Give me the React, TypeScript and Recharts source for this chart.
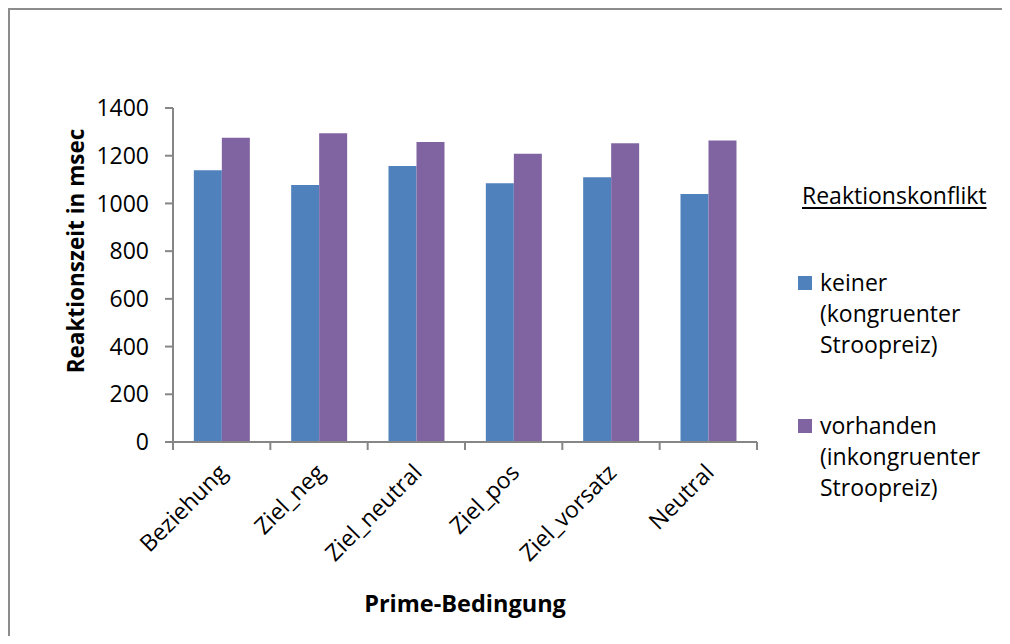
import React from 'react'
import { BarChart, Bar, XAxis, YAxis, Legend } from 'recharts'

// Reaction times (msec) per prime condition, split by response conflict
const primeConditions = ['Beziehung', 'Ziel_neg', 'Ziel_neutral', 'Ziel_pos', 'Ziel_vorsatz', 'Neutral']
const keinerValues = [1139, 1077, 1157, 1085, 1110, 1039]
const vorhandenValues = [1275, 1294, 1257, 1208, 1252, 1264]
const yTicks = [0, 200, 400, 600, 800, 1000, 1200, 1400]

const seriesKeiner = 'keiner (kongruenter Stroopreiz)'
const seriesVorhanden = 'vorhanden (inkongruenter Stroopreiz)'

const data = primeConditions.map((name, i) => ({
  name,
  keiner: keinerValues[i],
  vorhanden: vorhandenValues[i],
}))

const FONT = '"Open Sans", sans-serif'
const AXIS_GRAY = '#868686'
const BLUE = '#4F81BD'
const PURPLE = '#8064A2'

const CHART_W = 994
const CHART_H = 628
const Y_AXIS_W = 165
const X_AXIS_H = 120
const LEGEND_W = 200
const PLOT_RIGHT_GAP = 245
// the legend sits on the right and takes its width out of the plot area
const MARGIN = { top: 100, right: PLOT_RIGHT_GAP - LEGEND_W, left: 0, bottom: CHART_H - 434 - X_AXIS_H }
const PLOT_W = CHART_W - PLOT_RIGHT_GAP - Y_AXIS_W

// Category label rotated -45deg plus a tick mark on the left band edge
function CategoryTick(props: any) {
  const { x, y, payload, index } = props
  const band = PLOT_W / primeConditions.length
  const last = index === primeConditions.length - 1
  const ax = x + 7
  const ay = y + 32
  return (
    <g>
      <line x1={x - band / 2} x2={x - band / 2} y1={y} y2={y + 8} stroke={AXIS_GRAY} strokeWidth={2} />
      {last && <line x1={x + band / 2} x2={x + band / 2} y1={y} y2={y + 8} stroke={AXIS_GRAY} strokeWidth={2} />}
      <text
        x={ax}
        y={ay}
        textAnchor="end"
        transform={`rotate(-45 ${ax} ${ay})`}
        fontFamily={FONT}
        fontSize={23}
        fill="#000"
      >
        {payload.value}
      </text>
    </g>
  )
}

function YAxisTitle(props: any) {
  const { viewBox } = props
  const cx = viewBox.x + 67
  const cy = viewBox.y + viewBox.height / 2 - 24
  return (
    <text
      x={cx}
      y={cy}
      transform={`rotate(-90 ${cx} ${cy})`}
      textAnchor="middle"
      dominantBaseline="central"
      fontFamily={FONT}
      fontWeight={700}
      fontSize={22.5}
      fill="#000"
    >
      Reaktionszeit in msec
    </text>
  )
}

function XAxisTitle(props: any) {
  const { viewBox } = props
  const cx = viewBox.x + viewBox.width / 2
  const cy = viewBox.y + 161
  return (
    <text
      x={cx}
      y={cy}
      textAnchor="middle"
      dominantBaseline="central"
      fontFamily={FONT}
      fontWeight={700}
      fontSize={23.5}
      fill="#000"
    >
      Prime-Bedingung
    </text>
  )
}

function LegendBox(props: any) {
  const { payload = [] } = props
  return (
    <div style={{ fontFamily: FONT, fontSize: 23, color: '#000', lineHeight: '31px', width: LEGEND_W }}>
      <div style={{ paddingLeft: 4, textDecoration: 'underline', textUnderlineOffset: 3, whiteSpace: 'nowrap' }}>
        Reaktionskonflikt
      </div>
      {payload.map((p: any, i: number) => (
        <div key={p.value} style={{ display: 'flex', marginTop: i === 0 ? 56 : 50 }}>
          <span
            style={{ width: 14, height: 14, background: p.color, marginTop: 9, marginRight: 8, flex: 'none' }}
          />
          <span style={{ width: 176 }}>{p.value}</span>
        </div>
      ))}
    </div>
  )
}

export default function App() {
  return (
    <div style={{ position: 'relative', width: CHART_W, height: CHART_H }}>
      {/* frame: only the top and left edges fall inside the page */}
      <div
        style={{
          position: 'absolute',
          left: 0,
          top: 0,
          width: CHART_W + 8,
          height: CHART_H,
          borderTop: '2px solid #8c8c8c',
          borderLeft: '2px solid #8c8c8c',
          boxSizing: 'border-box',
        }}
      />
      <BarChart
        width={CHART_W}
        height={CHART_H}
        data={data}
        margin={MARGIN}
        barGap={0}
        barCategoryGap="21.4%"
        style={{ position: 'absolute', left: 0, top: 0 }}
      >
        <XAxis
          dataKey="name"
          height={X_AXIS_H}
          interval={0}
          stroke={AXIS_GRAY}
          strokeWidth={2}
          tickLine={false}
          tickSize={0}
          tickMargin={0}
          tick={<CategoryTick />}
          label={<XAxisTitle />}
        />
        <YAxis
          width={Y_AXIS_W}
          domain={[0, 1400]}
          ticks={yTicks}
          interval={0}
          stroke={AXIS_GRAY}
          strokeWidth={2}
          tickSize={8}
          tickMargin={16}
          tick={{ fontFamily: FONT, fontSize: 23, fill: '#000' }}
          label={<YAxisTitle />}
        />
        <Legend
          layout="vertical"
          verticalAlign="top"
          align="right"
          width={LEGEND_W}
          content={<LegendBox />}
          wrapperStyle={{ left: 790, top: 172, width: LEGEND_W }}
        />
        <Bar dataKey="keiner" name={seriesKeiner} fill={BLUE} isAnimationActive={false} />
        <Bar dataKey="vorhanden" name={seriesVorhanden} fill={PURPLE} isAnimationActive={false} />
      </BarChart>
    </div>
  )
}
